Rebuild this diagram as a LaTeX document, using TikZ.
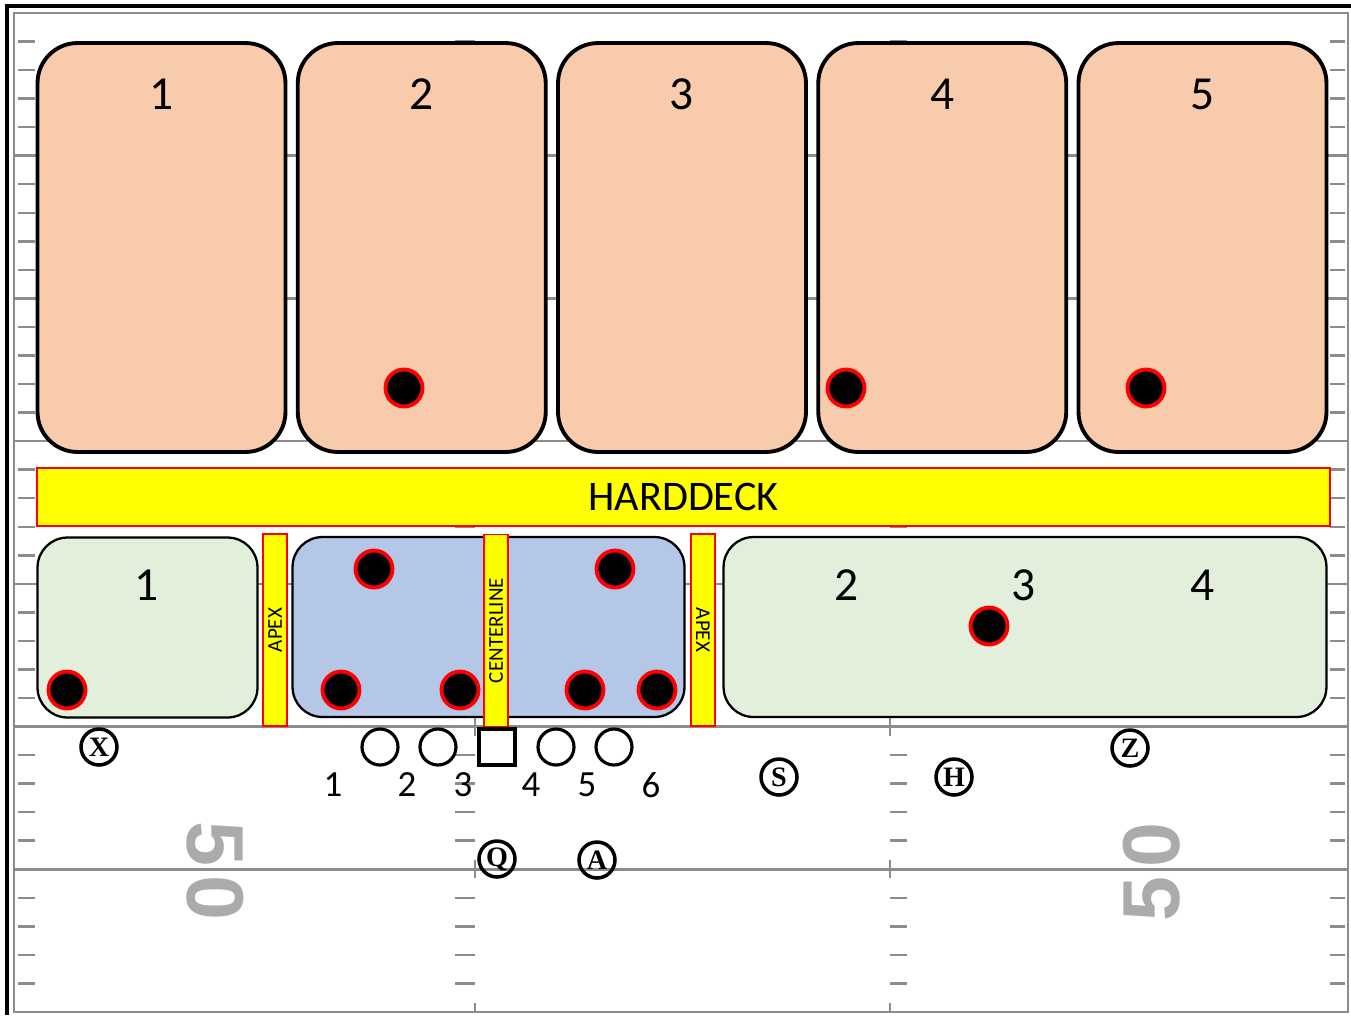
\documentclass[tikz,border=0pt]{standalone}
\usepackage{fontspec}
\setmainfont{Carlito}
\newfontfamily\playerfont{Liberation Serif}
\newfontfamily\yardfont{Liberation Sans}
\usetikzlibrary{positioning}
\definecolor{zonePeach}{HTML}{F8CBAD}
\definecolor{zoneGreen}{HTML}{E2EFDA}
\definecolor{zoneBlue}{HTML}{B4C7E7}
\definecolor{stripYellow}{HTML}{FFFF00}
\definecolor{stripRed}{HTML}{FF0000}
\colorlet{fieldGray}{black!45}
\colorlet{yardGray}{black!33}

\begin{document}
\begin{tikzpicture}[x=0.02cm,y=-0.02cm,
    yardline/.style={fieldGray,line width=1.4pt},
    hashmark/.style={fieldGray,line width=1.4pt},
    zone/.style={draw=black,line width=2.2pt,rounded corners=0.8cm,fill=zonePeach,minimum width=4.96cm,minimum height=8.18cm,inner sep=0pt},
    underzone/.style={draw=black,line width=1.3pt,rounded corners=0.6cm,minimum height=3.6cm,inner sep=0pt},
    strip/.style={draw=stripRed,line width=1.1pt,fill=stripYellow,inner sep=0pt},
    defender/.style={circle,draw=stripRed,fill=black,line width=2.2pt,minimum size=0.74cm,inner sep=0pt},
    lineman/.style={circle,draw=black,line width=1.8pt,minimum size=0.72cm,inner sep=0pt},
    snapper/.style={draw=black,line width=1.8pt,minimum size=0.72cm,inner sep=0pt},
    skill/.style={circle,draw=black,line width=2pt,minimum size=0.72cm,inner sep=0pt,font=\playerfont\bfseries\fontsize{16}{16}\selectfont},
    num/.style={font=\fontsize{27}{30}\selectfont},
    smallnum/.style={font=\fontsize{21}{24}\selectfont},
    striptext/.style={font=\fontsize{12}{12}\selectfont},
    yardnum/.style={text=yardGray,font=\yardfont\bfseries\fontsize{46}{46}\selectfont}
  ]
  \useasboundingbox (0,0) rectangle (1351,1015);
  % field
  \draw[fieldGray,line width=1.3pt] (14,13) rectangle (1348,1012);
  \draw[black,line width=1.8pt] (7,1015) -- (7,6) -- (1351,6);
  \foreach \j in {1,...,6}
    \draw[yardline] (14,13+142.71*\j) -- (1348,13+142.71*\j);
  \foreach \j in {0,...,6}
    \foreach \i in {1,...,4}{
      \pgfmathsetmacro\ty{13+142.71*\j+28.54*\i}
      \draw[hashmark] (18,\ty) -- (35,\ty);
      \draw[hashmark] (1330,\ty) -- (1345,\ty);
      \draw[hashmark] (455,\ty) -- (475,\ty);
      \draw[hashmark] (890,\ty) -- (907,\ty);
    }
  \foreach \j in {1,...,7}{
    \pgfmathsetmacro\ty{13+142.71*\j}
    \draw[hashmark] (475,\ty-9) -- (475,{min(\ty+9,1012)});
    \draw[hashmark] (890,\ty-9) -- (890,{min(\ty+9,1012)});
  }
  \node[yardnum,rotate=-90] (yardL) at (215,871) {5\kern5pt0};
  \node[yardnum,rotate=90] (yardR) at (1152,872) {5\kern5pt0};

  % deep zones
  \node[zone] (d1) at (161.5,247.5) {};
  \node[zone] (d2) at (421.75,247.5) {};
  \node[zone] (d3) at (682,247.5) {};
  \node[zone] (d4) at (942.25,247.5) {};
  \node[zone] (d5) at (1202.5,247.5) {};
  \node[num,yshift=-1.06cm] (d1num) at (d1.north) {1};
  \node[num,yshift=-1.06cm] (d2num) at (d2.north) {2};
  \node[num,yshift=-1.06cm] (d3num) at (d3.north) {3};
  \node[num,yshift=-1.06cm] (d4num) at (d4.north) {4};
  \node[num,yshift=-1.06cm] (d5num) at (d5.north) {5};

  \node[strip,minimum width=25.86cm,minimum height=1.16cm,font=\fontsize{24}{24}\selectfont] (hdeck) at (683.5,497) {HARDDECK};

  % underneath zones
  \node[underzone,fill=zoneGreen,minimum width=4.4cm] (u1) at (147.5,627.5) {};
  \node[underzone,fill=zoneBlue,minimum width=7.84cm] (box) at (488.5,627) {};
  \node[underzone,fill=zoneGreen,minimum width=12.06cm] (u2) at (1025,627) {};
  \node[num] (u1num) at (147,585) {1};
  \node[num] (u2num) at (847,585) {2};
  \node[num] (u3num) at (1024,585) {3};
  \node[num] (u4num) at (1203,585) {4};

  \node[strip,striptext,rotate=90,minimum width=3.84cm,minimum height=0.48cm] (apexL) at (275,630) {APEX};
  \node[strip,striptext,rotate=90,minimum width=3.84cm,minimum height=0.48cm] (center) at (496,630.5) {CENTERLINE};
  \node[strip,striptext,rotate=-90,minimum width=3.84cm,minimum height=0.48cm] (apexR) at (703,630) {APEX};

  % defenders
  \node[defender] (t2) at (404,388) {};
  \node[defender] (t4) at (846,388) {};
  \node[defender] (t5) at (1146,388) {};
  \node[defender] (cL) at (67,690) {};
  \node[defender] (lbL) at (374,569) {};
  \node[defender] (eL) at (341,690) {};
  \node[defender] (tL) at (460,690) {};
  \node[defender] (lbR) at (615,569) {};
  \node[defender] (tR) at (585,690) {};
  \node[defender] (eR) at (657,690) {};
  \node[defender] (flat) at (989,626) {};

  % offense
  \node[lineman] (ol1) at (380,747) {};
  \node[lineman] (ol2) at (438,747) {};
  \node[snapper] (ctr) at (497,747) {};
  \node[lineman] (ol4) at (556,747) {};
  \node[lineman] (ol5) at (614,747) {};
  \node[smallnum] (g1) at (333,785) {1};
  \node[smallnum] (g2) at (407,785) {2};
  \node[smallnum] (g3) at (463,785) {3};
  \node[smallnum] (g4) at (531,785) {4};
  \node[smallnum] (g5) at (587,785) {5};
  \node[smallnum] (g6) at (651,785) {6};

  \node[skill] (x) at (99,747) {X};
  \node[skill] (q) at (497,859) {Q};
  \node[skill] (a) at (597,860) {A};
  \node[skill] (s) at (779,777) {S};
  \node[skill] (h) at (954,777) {H};
  \node[skill] (z) at (1130,748) {Z};
\end{tikzpicture}
\end{document}
